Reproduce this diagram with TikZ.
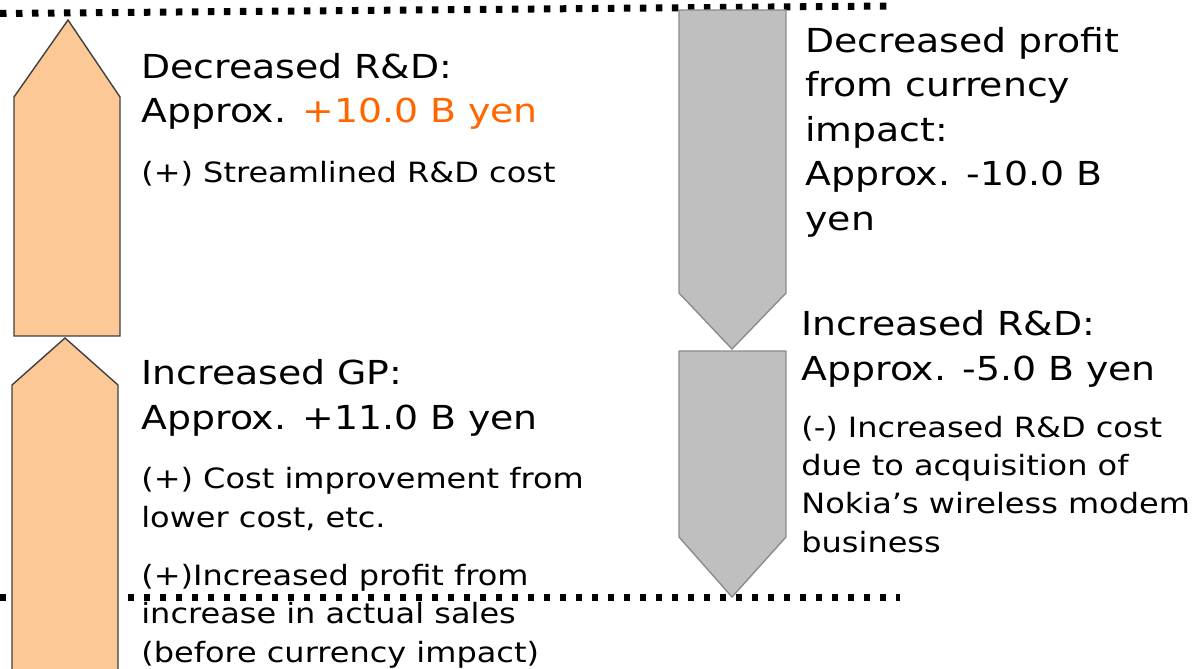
\documentclass[tikz,border=0pt]{standalone}
\usepackage{fontspec}
\setmainfont[FakeStretch=1.145]{DejaVu Sans}
\usepackage{tikz}

\definecolor{peach}{RGB}{252,200,150}
\definecolor{gain}{RGB}{255,102,0}

\begin{document}
\begin{tikzpicture}[x=0.02cm, y=-0.02cm,
	up/.style = {draw=black!75, fill=peach, line width=0.8pt},
	down/.style = {draw=black!45, fill=black!25, line width=0.8pt},
	dots/.style = {line width=0.14cm, dash pattern=on 0.13cm off 0.19cm},
	head/.style = {anchor=base west, inner sep=0, align=left,
	font=\fontsize{18.8}{25.3}\selectfont},
	note/.style = {anchor=base west, inner sep=0, align=left,
	font=\fontsize{15.9}{21.8}\selectfont}]

	\useasboundingbox (0,0) rectangle (1200,669);

	% dotted guide lines
	\draw[dots] (0,13.5) -- (890,6);
	\draw[dots] (0,597) -- (900,597);

	% positive bars
	\draw[up] (14,336) -- (14,97) -- (68,20) -- (120,97) -- (120,336) -- cycle;
	\draw[up] (12,680) -- (12,385) -- (65,338) -- (118,385) -- (118,680) -- cycle;

	% negative bars
	\draw[down] (679,10) -- (786,10) -- (786,293) -- (732,349) -- (679,293) -- cycle;
	\draw[down] (679,351) -- (786,351) -- (786,537) -- (732,597) -- (679,537) -- cycle;

	% Descriptions (placed at the baseline of the last line)
	\node (rd) [head] at (141,123) {Decreased R\&D:\\Approx. \textcolor{gain}{+10.0 B yen}};
	\node (rdnote) [note] at (141,182) {(+) Streamlined R\&D cost};

	\node (gp) [head] at (141,429) {Increased GP:\\Approx. +11.0 B yen};
	\node (gpnote1) [note] at (141,527) {(+) Cost improvement from\\lower cost, etc.};
	\node (gpnote2) [note] at (141,662) {(+)Increased profit from\\increase in actual sales\\(before currency impact)};

	\node (fx) [head] at (805,230) {Decreased profit\\from currency\\impact:\\Approx. -10.0 B\\yen};

	\node (rdup) [head] at (801,380) {Increased R\&D:\\Approx. -5.0 B yen};
	\node (rdupnote) [note] at (801,552) {(-) Increased R\&D cost\\due to acquisition of\\Nokia’s wireless modem\\business};
\end{tikzpicture}
\end{document}
